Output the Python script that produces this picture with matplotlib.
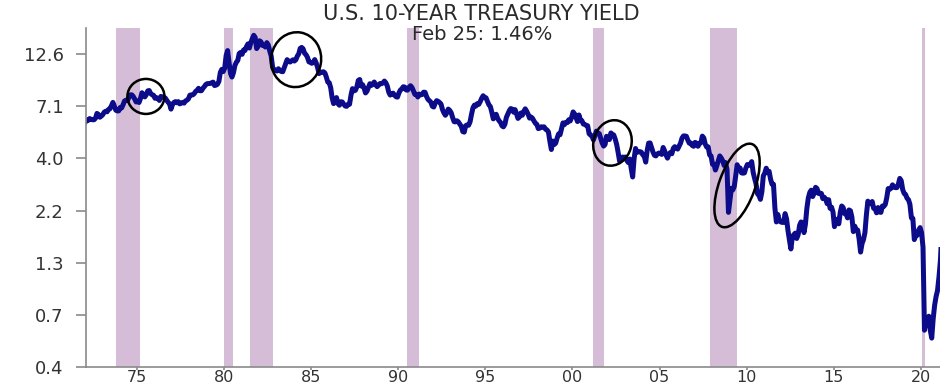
import numpy as np
import matplotlib
matplotlib.use("Agg")
import matplotlib.pyplot as plt
from matplotlib.patches import Ellipse
from matplotlib.transforms import IdentityTransform

# Monthly 10-year Treasury yield (%), Jan 1972 onwards
yld_1970s = [
    5.95, 6.08, 6.07, 6.19, 6.13, 6.11, 6.11, 6.21, 6.55, 6.48, 6.28, 6.36,
    6.46, 6.64, 6.71, 6.67, 6.85, 6.90, 7.13, 7.40, 7.09, 6.79, 6.73, 6.74,
    6.99, 6.96, 7.21, 7.51, 7.58, 7.54, 7.81, 8.04, 8.04, 7.90, 7.68, 7.43,
    7.50, 7.39, 7.73, 8.23, 8.06, 7.86, 8.06, 8.40, 8.43, 8.15, 8.05, 8.00,
    7.74, 7.79, 7.73, 7.56, 7.90, 7.86, 7.83, 7.77, 7.59, 7.41, 7.29, 6.87,
    7.21, 7.39, 7.46, 7.37, 7.46, 7.28, 7.33, 7.40, 7.34, 7.52, 7.58, 7.69,
    8.01, 8.03, 8.04, 8.15, 8.35, 8.46, 8.64, 8.41, 8.42, 8.64, 8.81, 9.01,
    9.10, 9.10, 9.12, 9.18, 9.25, 8.91, 8.95, 9.03, 9.33, 10.30, 10.65, 10.39,
]
yld_1980s = [
    10.80, 12.41, 13.10, 11.47, 10.18, 9.78, 10.25, 11.10, 11.51, 11.75, 12.68, 12.84,
    12.57, 13.19, 13.12, 13.68, 14.10, 13.47, 14.28, 14.94, 15.50, 15.15, 13.39, 13.72,
    14.59, 14.43, 13.86, 13.87, 13.62, 14.30, 13.95, 13.06, 12.34, 10.91, 10.55, 10.54,
    10.46, 10.72, 10.51, 10.40, 10.38, 10.85, 11.38, 11.85, 11.65, 11.54, 11.69, 11.83,
    11.67, 11.84, 12.32, 12.63, 13.41, 13.56, 13.36, 12.72, 12.52, 12.16, 11.57, 11.50,
    11.38, 11.51, 11.86, 11.43, 10.85, 10.16, 10.31, 10.33, 10.37, 10.24, 9.78, 9.26,
    9.19, 8.70, 7.78, 7.30, 7.71, 7.80, 7.30, 7.17, 7.45, 7.43, 7.25, 7.11,
    7.08, 7.25, 7.25, 8.02, 8.61, 8.40, 8.45, 8.76, 9.42, 9.52, 8.86, 8.99,
    8.67, 8.21, 8.37, 8.72, 9.09, 8.92, 9.06, 9.26, 8.98, 8.80, 8.96, 9.11,
    9.09, 9.17, 9.36, 9.18, 8.86, 8.28, 8.02, 8.11, 8.19, 8.01, 7.87, 7.84,
]
yld_1990s = [
    8.21, 8.47, 8.59, 8.79, 8.76, 8.48, 8.47, 8.75, 8.89, 8.72, 8.39, 8.08,
    8.09, 7.85, 8.11, 8.04, 8.07, 8.28, 8.27, 7.90, 7.65, 7.53, 7.42, 7.09,
    7.03, 7.34, 7.54, 7.48, 7.39, 7.26, 6.84, 6.59, 6.42, 6.59, 6.87, 6.77,
    6.60, 6.26, 5.98, 5.97, 6.04, 5.96, 5.81, 5.68, 5.36, 5.33, 5.72, 5.77,
    5.75, 5.97, 6.48, 6.97, 7.18, 7.10, 7.30, 7.24, 7.46, 7.74, 7.96, 7.81,
    7.78, 7.47, 7.20, 7.06, 6.63, 6.17, 6.28, 6.49, 6.20, 6.04, 5.93, 5.71,
    5.65, 5.81, 6.27, 6.51, 6.74, 6.91, 6.87, 6.64, 6.83, 6.53, 6.20, 6.30,
    6.58, 6.42, 6.69, 6.89, 6.71, 6.49, 6.22, 6.30, 6.21, 6.03, 5.88, 5.81,
    5.54, 5.57, 5.65, 5.64, 5.65, 5.50, 5.46, 5.34, 4.81, 4.40, 4.83, 4.65,
    4.72, 5.00, 5.23, 5.18, 5.54, 5.90, 5.79, 5.94, 5.92, 6.11, 6.03, 6.28,
]
yld_2000s = [
    6.66, 6.52, 6.26, 5.99, 6.44, 6.10, 6.05, 5.83, 5.80, 5.74, 5.72, 5.24,
    5.16, 5.10, 4.89, 5.14, 5.39, 5.28, 5.24, 4.97, 4.73, 4.57, 4.65, 5.09,
    5.04, 4.91, 5.28, 5.21, 5.16, 4.93, 4.65, 4.26, 3.87, 3.94, 4.05, 4.03,
    4.05, 3.90, 3.81, 3.96, 3.57, 3.25, 3.98, 4.45, 4.27, 4.29, 4.30, 4.27,
    4.15, 4.08, 3.83, 4.35, 4.72, 4.73, 4.50, 4.28, 4.13, 4.10, 4.19, 4.23,
    4.22, 4.17, 4.50, 4.34, 4.14, 4.00, 4.18, 4.26, 4.20, 4.46, 4.54, 4.47,
    4.42, 4.57, 4.72, 4.99, 5.11, 5.11, 5.09, 4.88, 4.72, 4.73, 4.60, 4.56,
    4.76, 4.72, 4.56, 4.69, 4.75, 5.10, 5.00, 4.67, 4.52, 4.53, 4.15, 4.10,
    3.74, 3.74, 3.51, 3.68, 3.88, 4.10, 4.01, 3.89, 3.69, 3.81, 3.53, 2.20,
    2.52, 2.87, 2.82, 2.93, 3.29, 3.72, 3.56, 3.59, 3.40, 3.39, 3.40, 3.59,
]
yld_2010s = [
    3.73, 3.69, 3.73, 3.85, 3.42, 3.20, 3.01, 2.70, 2.65, 2.54, 2.76, 3.29,
    3.39, 3.58, 3.41, 3.46, 3.17, 3.00, 3.00, 2.30, 1.98, 2.15, 2.01, 1.98,
    1.97, 1.97, 2.17, 2.05, 1.80, 1.62, 1.47, 1.68, 1.72, 1.75, 1.65, 1.72,
    1.91, 1.98, 1.96, 1.76, 1.93, 2.30, 2.58, 2.74, 2.81, 2.62, 2.72, 2.90,
    2.86, 2.71, 2.72, 2.71, 2.56, 2.60, 2.54, 2.42, 2.53, 2.30, 2.33, 2.21,
    1.88, 1.98, 2.04, 1.94, 2.20, 2.36, 2.32, 2.17, 2.17, 2.07, 2.26, 2.24,
    2.09, 1.78, 1.89, 1.81, 1.81, 1.64, 1.42, 1.56, 1.63, 1.76, 2.14, 2.49,
    2.43, 2.42, 2.48, 2.30, 2.30, 2.19, 2.32, 2.21, 2.20, 2.36, 2.35, 2.40,
    2.58, 2.86, 2.84, 2.87, 2.98, 2.91, 2.89, 2.89, 3.00, 3.20, 3.12, 2.83,
    2.71, 2.68, 2.57, 2.53, 2.40, 2.07, 2.06, 1.63, 1.70, 1.71, 1.81, 1.86,
]
yld_2020s = [
    1.76, 1.50, 0.60, 0.66, 0.67, 0.70, 0.60, 0.55, 0.68, 0.79, 0.87, 0.93,
    1.08, 1.30,
]
last_date = 2021 + 56 / 365   # Feb 25, 2021
last_yield = 1.46

# NBER recessions (decimal years)
rec_start = [1973.83, 1980.00, 1981.50, 1990.50, 2001.17, 2007.92, 2020.08]
rec_end = [1975.17, 1980.50, 1982.83, 1991.17, 2001.83, 2009.42, 2020.25]

ytick_labels = ["0.4", "0.7", "1.3", "2.2", "4.0", "7.1", "12.6"]
xtick_years = [1975, 1980, 1985, 1990, 1995, 2000, 2005, 2010, 2015, 2020]

monthly = yld_1970s + yld_1980s + yld_1990s + yld_2000s + yld_2010s + yld_2020s
dates = 1972 + (np.arange(len(monthly)) + 0.5) / 12
dates = np.append(dates, last_date)
yields = np.append(monthly, last_yield)

fig = plt.figure(figsize=(9.4, 3.9), dpi=100)
ax = fig.add_axes([86 / 940, 23 / 390, 854 / 940, 339 / 390])

for s, e in zip(rec_start, rec_end):
    ax.axvspan(s, e, color="#d5bdd8", lw=0, zorder=0)

ax.plot(dates, yields, color="#0c0c8a", lw=3.6, solid_joinstyle="round", zorder=2)

ax.set_yscale("log")
ax.set_ylim(0.4, 16.8)
ax.set_xlim(1972.08, 2021.1)

yticks = np.geomspace(0.4, 12.6, len(ytick_labels))
ax.set_yticks(yticks)
ax.set_yticklabels(ytick_labels)
ax.yaxis.set_minor_locator(matplotlib.ticker.NullLocator())
ax.set_xticks(xtick_years)
ax.set_xticklabels(["%02d" % (y % 100) for y in xtick_years])

for side in ("top", "right"):
    ax.spines[side].set_visible(False)
for side in ("left", "bottom"):
    ax.spines[side].set_color("#8a8a8a")
    ax.spines[side].set_linewidth(1.2)

ax.tick_params(axis="y", length=7, width=1.2, color="#8a8a8a", pad=9,
               labelsize=13, labelcolor="#333333")
ax.tick_params(axis="x", length=2, width=1.2, color="#8a8a8a", pad=0.5,
               labelsize=11.5, labelcolor="#333333")

fig.text(481 / 940, 1 - 14 / 390, "U.S. 10-YEAR TREASURY YIELD", ha="center",
         va="center", fontsize=15, color="#2a2a2a")
fig.text(482 / 940, 1 - 35 / 390, "Feb 25: 1.46%", ha="center", va="center",
         fontsize=14, color="#2a2a2a")

# circled episodes: (year, yield) centre, size in pixels, tilt
circles = [
    (1975.52, 7.9, 37, 35, 0),
    (1984.14, 11.85, 50, 55, -10),
    (2002.3, 4.73, 38, 46, -15),
    (2009.45, 2.96, 36, 88, -20),
]
for yr, val, w, h, ang in circles:
    cx, cy = ax.transData.transform((yr, val))
    ax.add_patch(Ellipse((cx, cy), w, h, angle=ang, fill=False, ec="black",
                         lw=1.8, transform=IdentityTransform(), zorder=3))

fig.savefig("out.png", dpi=100)
